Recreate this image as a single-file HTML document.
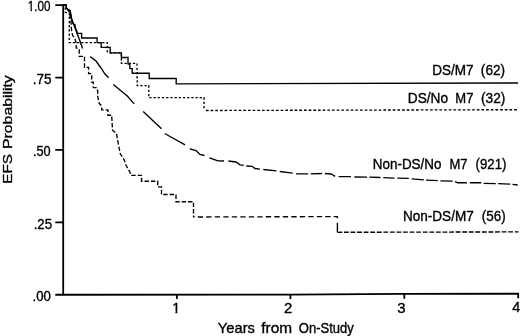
<!DOCTYPE html>
<html><head><meta charset="utf-8"><title>EFS Probability</title>
<style>
html,body{margin:0;padding:0;background:#fff;}
svg{display:block;}
text{font-family:"Liberation Sans",Arial,sans-serif;font-size:14.2px;fill:#000;stroke:#000;stroke-width:0.35px;}
</style></head><body>
<svg width="520" height="336" viewBox="0 0 520 336">
<defs><clipPath id="c1"><path d="M-2,-14 H80 V-2 H-2 Z M3.3,-2.1 H5.1 V1 H3.3 Z"/></clipPath><clipPath id="c2"><path d="M-2,-14 H80 V-1.5 H-2 Z M3.3,-1.6 H5.1 V1 H3.3 Z M8.3,-1.6 H80 V4 H8.3 Z"/></clipPath></defs>
<rect width="520" height="336" fill="#fff"/>
<g fill="none" stroke="#000" stroke-width="1.8">
<path d="M63.2,4.3 V294.75 L290,294.55 L404,293.95 L519,293.75"/>
<path d="M55.3,5.2 H63.2 M55.3,77.7 H63.2 M55.3,149.9 H63.2 M55.3,222.3 H63.2 M55.3,294.75 H63.2"/>
<path d="M176.9,294.7 V298.9 M290.4,294.5 V298.9 M404.3,294 V298.7 M518.2,293.8 V298.3"/>
</g>
<g fill="none" stroke="#000" stroke-width="1.35" stroke-linejoin="miter">
<path d="M63.2,5.0 L66.0,5.0 L66.3,7.5 L67.3,9.0 L70.2,10.7 L70.8,15.0 L71.5,18.5 L73.0,23.8 L74.9,24.4 L75.5,28.0 L77.5,33.3 L81.6,33.3 L81.6,38.0 L97.1,38.0 L97.1,42.6 L101.2,42.6 L101.2,47.3 L110.2,47.3 L110.2,52.9 L121.4,52.9 L121.4,57.5 L128.0,57.5 L128.0,64.0 L129.8,64.3 L129.8,68.3 L132.2,68.5 L132.2,73.0 L132.3,73.2 L149.2,73.2 L149.2,78.5 L176.2,78.5 L176.2,83.9 L518.0,83.0"/>
<path d="M63.2,5.0 L65.3,5.5 L65.4,12.5 L69.3,13.0 L69.3,42.6 L107.2,42.6 L107.2,51.5 L110.2,52.9 L121.4,52.9 L121.4,63.4 L137.0,63.4 L137.2,85.6 L148.8,85.6 L148.8,97.6 L204.0,97.6 L204.0,109.5" stroke-dasharray="2.3 1.9"/>
<path d="M205.9,110.5 L518.0,109.7" stroke-dasharray="2.7 1.97"/>
<path d="M63.2,5.0 L66.0,5.0 L66.3,7.5 L67.3,9.0 L69.0,12.0 L70.3,17.0 L71.0,22.0 L71.5,30.0 L72.5,35.0 L75.0,39.0 L76.2,43.0 L76.2,48.0 L79.2,49.0 L79.2,56.3 L84.5,56.3 L84.5,67.4 L88.6,67.4 L88.6,73.6 L91.7,73.6 L91.7,82.1 L93.3,82.1 L93.3,87.6 L96.4,87.6 L97.8,91.2 L97.8,97.0 L99.3,103.6 L101.7,105.9 L101.7,109.8 L107.9,109.8 L107.9,115.2 L111.7,115.2 L112.5,130.2 L116.4,133.5 L118.4,144.2 L120.3,153.8 L124.2,159.7 L126.1,165.5 L130.0,172.2 L130.8,175.3 L141.5,175.3 L141.5,181.2 L157.7,181.2 L157.7,186.9 L161.5,186.9 L161.5,194.5 L176.0,194.5 L176.0,201.7 L193.5,201.7 L193.5,217.0" stroke-dasharray="4.4 2"/>
<path d="M193.5,217.0 L337.4,216.6 L337.4,221.5" stroke-dasharray="5.3 3.2" stroke-dashoffset="4.2"/>
<path d="M337.4,222.8 L337.4,232.2"/>
<path d="M337.4,232.3 L518.5,231.9" stroke-dasharray="4.8 1.77"/>
<path d="M63.2,5.0 L66.0,5.0 L66.3,7.5 L67.3,9.0 L70.2,10.7 L70.8,15.0 L71.5,18.5 L76.0,30.5 L79.6,40.0 L82.6,48.4 M90.2,56.6 L96.0,61.0 L101.0,68.0 L105.0,74.0 L108.7,77.8 M113.4,84.5 L120.0,90.0 L127.3,96.0 L134.2,103.9 M143.2,111.6 L152.2,120.0 L161.5,128.7 M164.8,133.5 L170.0,136.5 L185.1,144.8 M189.8,148.8 L190.0,149.0 L196.0,150.5 L200.0,154.5 L204.5,155.5 M209.4,157.8 L218.0,160.8 L224.1,161.0 M228.4,161.0 L236.0,162.0 L240.0,164.8 L243.7,165.3 M246.3,166.0 L252.0,166.3 L255.0,168.5 L260.0,169.2 M263.3,169.5 L276.4,170.8 M279.7,171.5 L292.7,173.1 M296.0,173.8 L308.1,173.8 M310.7,173.8 L322.2,173.5 M324.8,173.5 L331.0,174.0 L335.2,176.4 M338.6,176.6 L351.0,176.6 M354.4,177.0 L367.1,177.1 M369.4,177.2 L380.4,177.5 M383.2,177.6 L394.4,178.1 M397.3,178.2 L408.8,178.4 M411.7,178.8 L423.8,179.8 M426.1,180.2 L437.7,180.7 M440.4,180.8 L452.7,181.1 M455.0,181.5 L457.5,182.7 L466.9,182.7 M469.8,182.7 L481.3,182.7 M483.6,183.4 L495.8,183.6 M498.1,183.7 L510.2,184.2 M512.5,184.4 L517.7,185.0"/>
</g>
<text transform="translate(27.83,10.50) scale(0.821,1)" clip-path="url(#c2)">1.00</text>
<text transform="translate(32.80,83.90) scale(0.957,1)">.75</text>
<text transform="translate(32.88,155.90) scale(0.895,1)">.50</text>
<text transform="translate(33.63,228.70) scale(0.934,1)">.25</text>
<text transform="translate(32.59,301.10) scale(0.931,1)">.00</text>
<text transform="translate(284.01,313.00) scale(1.051,1)">2</text>
<text transform="translate(397.37,312.90) scale(1.052,1)">3</text>
<text transform="translate(512.37,312.00) scale(1.018,1)">4</text>
<text transform="translate(217.86,332.70) scale(1.034,1)">Years</text>
<text transform="translate(261.23,332.60) scale(1.086,1)">from</text>
<text transform="translate(298.83,332.50) scale(0.917,1)">On-Study</text>
<text transform="translate(11.50,183.71) rotate(-90) scale(1.078,0.93)">EFS</text>
<text transform="translate(11.50,148.95) rotate(-90) scale(1.113,0.93)">Probability</text>
<text transform="translate(432.13,75.20) scale(0.954,1)">DS/M7</text>
<text transform="translate(480.86,75.20) scale(0.962,1)">(62)</text>
<text transform="translate(407.77,103.30) scale(0.963,1)">DS/No</text>
<text transform="translate(455.37,103.30) scale(0.917,1)">M7</text>
<text transform="translate(480.95,103.30) scale(0.966,1)">(32)</text>
<text transform="translate(372.78,169.00) scale(0.947,1)">Non-DS/No</text>
<text transform="translate(449.47,169.00) scale(0.917,1)">M7</text>
<text transform="translate(475.59,169.00) scale(0.931,1)">(921)</text>
<text transform="translate(402.92,220.90) scale(0.956,1)">Non-DS/M7</text>
<text transform="translate(481.87,220.90) scale(0.945,1)">(56)</text>
<text transform="translate(172.16,313.0)" clip-path="url(#c1)">1</text>
</svg>
</body></html>
